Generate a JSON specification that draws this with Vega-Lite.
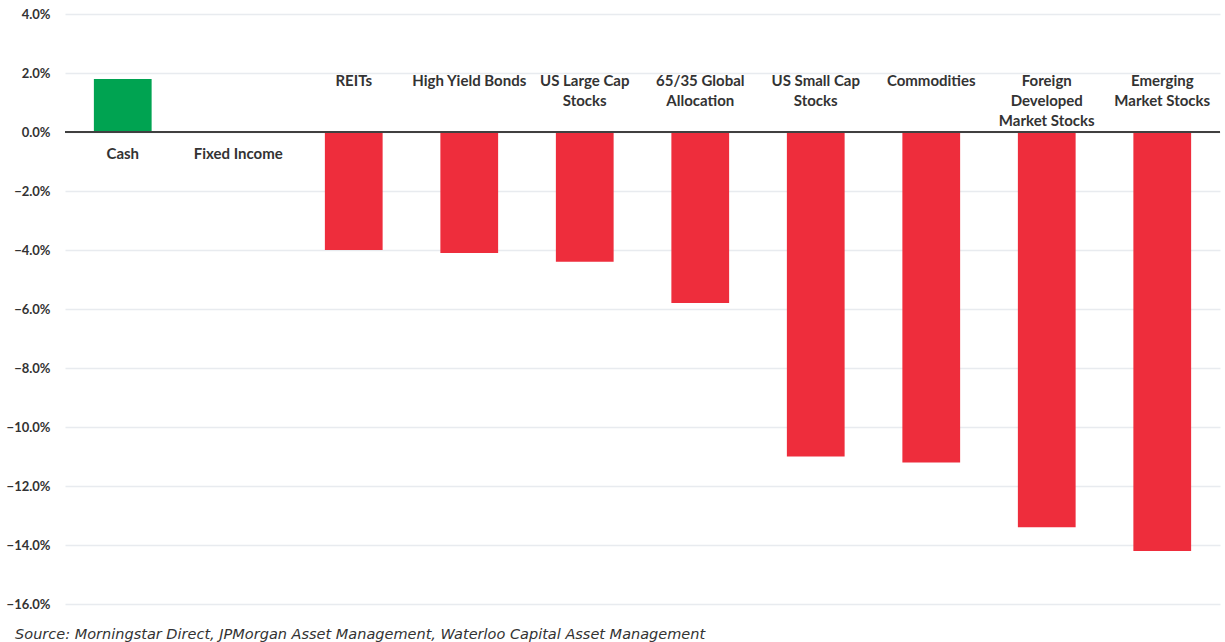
{
  "$schema": "https://vega.github.io/schema/vega-lite/v6.json",
  "width": 1155,
  "height": 590,
  "padding": {"left": 6, "top": 8, "right": 3, "bottom": 5},
  "background": "white",
  "config": {"view": {"stroke": null}},
  "title": {
    "text": "Source: Morningstar Direct, JPMorgan Asset Management, Waterloo Capital Asset Management",
    "orient": "bottom",
    "anchor": "start",
    "frame": "bounds",
    "font": "DejaVu Sans",
    "fontStyle": "italic",
    "fontWeight": "normal",
    "fontSize": 14.5,
    "color": "#333333",
    "offset": 17,
    "dx": 9
  },
  "data": {
    "values": [
      {"asset": "Cash", "label": "Cash", "value": 1.8},
      {"asset": "Fixed Income", "label": "Fixed Income", "value": 0.0},
      {"asset": "REITs", "label": "REITs", "value": -4.0},
      {"asset": "High Yield Bonds", "label": "High Yield Bonds", "value": -4.1},
      {"asset": "US Large Cap Stocks", "label": "US Large Cap|Stocks", "value": -4.4},
      {"asset": "65/35 Global Allocation", "label": "65/35 Global|Allocation", "value": -5.8},
      {"asset": "US Small Cap Stocks", "label": "US Small Cap|Stocks", "value": -11.0},
      {"asset": "Commodities", "label": "Commodities", "value": -11.2},
      {"asset": "Foreign Developed Market Stocks", "label": "Foreign|Developed|Market Stocks", "value": -13.4},
      {"asset": "Emerging Market Stocks", "label": "Emerging|Market Stocks", "value": -14.2}
    ]
  },
  "encoding": {
    "x": {
      "field": "asset",
      "type": "nominal",
      "sort": null,
      "scale": {"paddingInner": 0.5, "paddingOuter": 0.25},
      "axis": null
    }
  },
  "layer": [
    {
      "mark": {"type": "bar"},
      "encoding": {
        "y": {
          "field": "value",
          "type": "quantitative",
          "scale": {"domain": [-16, 4], "nice": false, "zero": true},
          "axis": {
            "values": [-16, -14, -12, -10, -8, -6, -4, -2, 0, 2, 4],
            "labelExpr": "format(datum.value, '.1f') + '%'",
            "title": null,
            "domain": false,
            "ticks": false,
            "labelPadding": 15,
            "labelFont": "Lato",
            "labelFontWeight": "bold",
            "labelFontSize": 13,
            "labelColor": "#333333",
            "grid": true,
            "gridColor": "#e8ebef",
            "gridWidth": 1.5
          }
        },
        "color": {
          "condition": {"test": "datum.value > 0", "value": "#00A351"},
          "value": "#EE2D3C"
        }
      }
    },
    {
      "mark": {"type": "rule", "color": "#404040", "strokeWidth": 1.5},
      "encoding": {"y": {"datum": 0}, "x": null}
    },
    {
      "transform": [{"filter": "datum.value < 0"}],
      "mark": {
        "type": "text",
        "baseline": "top",
        "align": "center",
        "font": "Lato",
        "fontWeight": "bold",
        "fontSize": 15,
        "color": "#333333",
        "lineBreak": "|",
        "lineHeight": 20,
        "dy": 1
      },
      "encoding": {
        "y": {"datum": 2},
        "text": {"field": "label"}
      }
    },
    {
      "transform": [{"filter": "datum.value >= 0"}],
      "mark": {
        "type": "text",
        "baseline": "top",
        "align": "center",
        "font": "Lato",
        "fontWeight": "bold",
        "fontSize": 15,
        "color": "#333333",
        "dy": 15
      },
      "encoding": {
        "y": {"datum": 0},
        "text": {"field": "label"}
      }
    }
  ]
}
